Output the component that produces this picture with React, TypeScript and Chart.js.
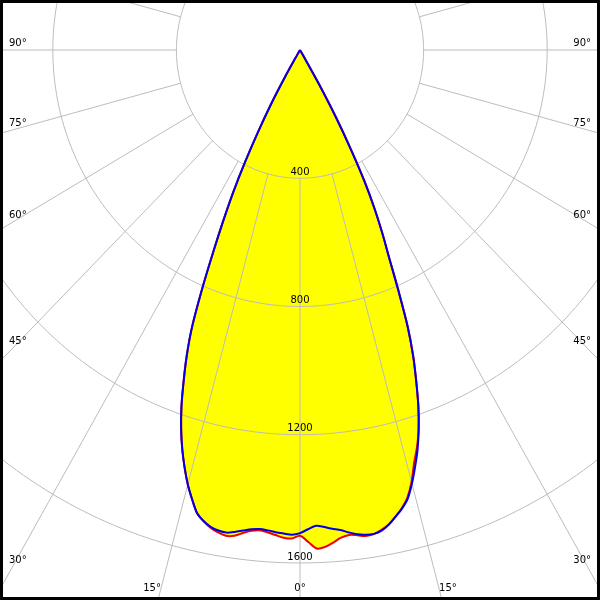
import React, { useEffect, useRef } from "react";
import { Chart, registerables } from "chart.js";

Chart.register(...registerables);

// Angles (degrees, negative = left half of the diagram)
const ANGLES = [
  -33, -32, -31, -30, -29, -28, -27, -26, -25, -24, -23, -22, -21, -20, -19, -18, -17,
  -16, -15, -14, -13, -12, -11, -10, -9, -8, -7, -6, -5, -4, -3, -2, -1,
  0,
  1, 2, 3, 4, 5, 6, 7, 8, 9, 10, 11, 12, 13, 14, 15, 16, 17,
  18, 19, 20, 21, 22, 23, 24, 25, 26, 27, 28, 29, 30, 31, 32, 33,
];

// C0-C180 plane (red), cd
const PLANE_C0_C180 = [
  0, 0, 15, 93, 196, 289, 389, 492, 588, 693, 814, 934, 1024, 1102, 1179, 1245, 1303,
  1355, 1403, 1444, 1482, 1502, 1518, 1528, 1534, 1530, 1518, 1508, 1504, 1508, 1515, 1522, 1524,
  1515,
  1535, 1556, 1552, 1540, 1527, 1521, 1525, 1531, 1529, 1520, 1507, 1488, 1466, 1438, 1395, 1340, 1295,
  1243, 1177, 1100, 1022, 930, 815, 710, 630, 550, 460, 350, 240, 120, 20, 0, 0,
];

// C90-C270 plane (blue), cd
const PLANE_C90_C270 = [
  0, 0, 15, 93, 196, 289, 389, 492, 588, 693, 814, 934, 1024, 1102, 1179, 1245, 1303,
  1355, 1403, 1444, 1482, 1502, 1515, 1522, 1524, 1518, 1510, 1503, 1500, 1502, 1506, 1509, 1512,
  1507,
  1495, 1485, 1490, 1497, 1503, 1513, 1522, 1527, 1528, 1522, 1508, 1488, 1468, 1442, 1400, 1352, 1302,
  1243, 1177, 1100, 1022, 930, 815, 710, 630, 550, 460, 350, 240, 120, 20, 0, 0,
];

const RING_VALUES = [400, 800, 1200, 1600];
const SIDE_ANGLE_LABELS = [90, 75, 60, 45, 30];
const BOTTOM_ANGLE_LABELS = [-15, 0, 15];
const SPOKE_STEP = 15;

const X_HALF = 971;
const Y_TOP = 156;
const Y_BOTTOM = -1715.5;

const FILL_INDEX = 2;
const GRID_COLOR = "#bcbcbc";
const FONT = '10px "DejaVu Sans", sans-serif';
const TENSION = 0.3;

function toXY(values: number[]) {
  return ANGLES.map((a, i) => {
    const t = (a * Math.PI) / 180;
    return { x: values[i] * Math.sin(t), y: -values[i] * Math.cos(t) };
  });
}

const polarPlugin = {
  id: "polarGrid",
  beforeDatasetDraw(chart: any, args: any) {
    if (args.index !== FILL_INDEX) return;
    const ctx = chart.ctx;
    const line = args.meta.dataset;
    ctx.save();
    ctx.fillStyle = "#ffff00";
    ctx.beginPath();
    line.path(ctx);
    ctx.closePath();
    ctx.fill();
    ctx.restore();
  },
  afterDatasetDraw(chart: any, args: any) {
    if (args.index !== FILL_INDEX) return;
    const ctx = chart.ctx;
    const xs = chart.scales.x;
    const ys = chart.scales.y;
    const px = (r: number, deg: number): [number, number] => {
      const t = (deg * Math.PI) / 180;
      return [xs.getPixelForValue(r * Math.sin(t)), ys.getPixelForValue(-r * Math.cos(t))];
    };
    const [cx, cy] = px(0, 0);
    ctx.save();
    ctx.strokeStyle = GRID_COLOR;
    ctx.lineWidth = 1;
    for (const r of RING_VALUES) {
      ctx.beginPath();
      for (let d = 0; d <= 360; d += 1) {
        const [x, y] = px(r, d);
        if (d === 0) ctx.moveTo(x, y);
        else ctx.lineTo(x, y);
      }
      ctx.closePath();
      ctx.stroke();
    }
    for (let d = 0; d < 360; d += SPOKE_STEP) {
      const [x1, y1] = px(RING_VALUES[0], d);
      const [x2, y2] = px(6000, d);
      ctx.beginPath();
      ctx.moveTo(x1, y1);
      ctx.lineTo(x2, y2);
      ctx.stroke();
    }
    ctx.fillStyle = "#000";
    ctx.font = FONT;
    ctx.textAlign = "center";
    ctx.textBaseline = "middle";
    for (const r of RING_VALUES) {
      ctx.fillText(String(r), cx, ys.getPixelForValue(-r) - 6);
    }
    const W = chart.width;
    const H = chart.height;
    for (const a of SIDE_ANGLE_LABELS) {
      for (const s of [-1, 1]) {
        const [ex, ey] = px(1000, s * a);
        const dx = ex - cx;
        const dy = ey - cy;
        const xAt = s < 0 ? 12 : W - 12;
        const t = (xAt - cx) / dx;
        const y = cy + t * dy - 7;
        ctx.textAlign = s < 0 ? "left" : "right";
        ctx.fillText(`${a}°`, s < 0 ? 9 : W - 9, y);
      }
    }
    ctx.textAlign = "center";
    for (const a of BOTTOM_ANGLE_LABELS) {
      const [ex, ey] = px(1000, a);
      const dx = ex - cx;
      const dy = ey - cy;
      const yAt = H - 12;
      const t = (yAt - cy) / dy;
      const x = cx + t * dx + Math.sign(a) * 9;
      ctx.fillText(`${Math.abs(a)}°`, x, yAt);
    }
    ctx.restore();
  },
  afterDraw(chart: any) {
    const ctx = chart.ctx;
    ctx.save();
    ctx.strokeStyle = "#000";
    ctx.lineWidth = 3;
    ctx.strokeRect(1.5, 1.5, chart.width - 3, chart.height - 3);
    ctx.restore();
  },
};

export default function App() {
  const ref = useRef<HTMLCanvasElement>(null);
  useEffect(() => {
    document.body.style.margin = "0";
    const red = toXY(PLANE_C0_C180);
    const blue = toXY(PLANE_C90_C270);
    const union = toXY(PLANE_C0_C180.map((v, i) => Math.max(v, PLANE_C90_C270[i])));
    const chart = new Chart(ref.current as HTMLCanvasElement, {
      type: "scatter",
      data: {
        datasets: [
          {
            label: "C90-C270",
            data: blue,
            showLine: true,
            tension: TENSION,
            borderColor: "rgb(0,0,230)",
            borderWidth: 2,
            pointRadius: 0,
            fill: false,
            order: 0,
          },
          {
            label: "C0-C180",
            data: red,
            showLine: true,
            tension: TENSION,
            borderColor: "rgb(235,0,0)",
            borderWidth: 2,
            pointRadius: 0,
            fill: false,
            order: 1,
          },
          {
            label: "fill",
            data: union,
            showLine: true,
            tension: TENSION,
            borderWidth: 0,
            borderColor: "rgba(0,0,0,0)",
            pointRadius: 0,
            fill: false,
            order: 2,
          },
        ],
      },
      options: {
        responsive: false,
        maintainAspectRatio: false,
        animation: false,
        events: [],
        layout: { padding: 0 },
        plugins: { legend: { display: false }, tooltip: { enabled: false } },
        scales: {
          x: { type: "linear", min: -X_HALF, max: X_HALF, display: false },
          y: { type: "linear", min: Y_BOTTOM, max: Y_TOP, display: false },
        },
      },
      plugins: [polarPlugin],
    } as any);
    return () => chart.destroy();
  }, []);
  return (
    <div style={{ width: 600, height: 600 }}>
      <canvas ref={ref} width={600} height={600} style={{ display: "block" }} />
    </div>
  );
}
